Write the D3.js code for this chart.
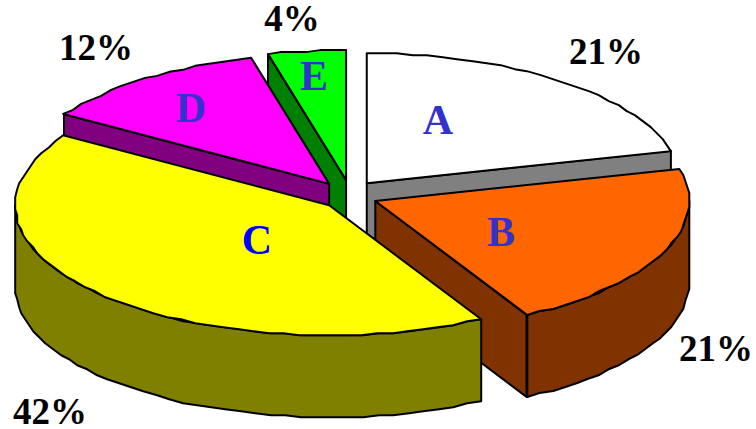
<!DOCTYPE html>
<html>
<head>
<meta charset="utf-8">
<script src="https://cdn.jsdelivr.net/npm/d3@7"></script>
<style>
  html, body { margin: 0; padding: 0; background: #fff; }
  svg { display: block; }
  text { font-family: "Liberation Serif", serif; font-weight: bold; text-anchor: middle; dominant-baseline: central; }
</style>
</head>
<body>
<div id="chart"></div>
<script>
const categories = ["A", "B", "C", "D", "E"];
const values = [21, 21, 42, 12, 4];
const topColors = ["#ffffff", "#ff6600", "#ffff00", "#ff00ff", "#00ff00"];
const wallColors = ["#808080", "#803300", "#808000", "#800080", "#008000"];
const letterColors = ["#3333cc", "#3333cc", "#0000ff", "#3333cc", "#3333cc"];

const width = 756, height = 429;
const cx = 349.6, cy = 195;
const rx = 314, ry = 130, depth = 82;
// how far each slice is pulled out of the pie, in screen px
const explodeX = 28, explodeY = 15;
// D sits a little further left than the plain explode gives
const nudge = { D: [-4, 1] };
const pctPos = { A: [606, 51], B: [716, 348], C: [50, 411], D: [96, 47], E: [292, 18] };
const letterPos = { A: [438, 120], B: [501, 232], C: [257, 240], D: [191, 108], E: [314, 76] };
// back to front
const drawOrder = ["A", "E", "D", "B", "C"];

const total = d3.sum(values);
const xScale = d3.scaleLinear().domain([-1, 1]).range([-rx, rx]);
const yScale = d3.scaleLinear().domain([-1, 1]).range([ry, -ry]);

const arcs = d3.pie().sort(null).startAngle(0).endAngle(2 * Math.PI)(values);

const svg = d3.select("#chart").append("svg")
  .attr("width", width)
  .attr("height", height);

const line = d3.line();

function point(a) {
  return [xScale(Math.sin(a)), yScale(Math.cos(a))];
}

// the original outline is coarse, so snap the rim to a 2px grid
function arcPoints(a0, a1) {
  let n = Math.max(2, Math.ceil((a1 - a0) / 0.05));
  return d3.range(n + 1).map((i) => {
    let p = point(a0 + (a1 - a0) * i / n);
    return [Math.round(p[0] / 2) * 2, Math.round(p[1] / 2) * 2];
  });
}

function shiftDown(pts) {
  return pts.map((p) => [p[0], p[1] + depth]);
}

function addShape(g, pts, fill) {
  g.append("path")
    .attr("d", line(pts) + "Z")
    .attr("fill", fill)
    .attr("stroke", "#000")
    .attr("stroke-width", 2)
    .attr("stroke-linejoin", "round");
}

drawOrder.forEach((name) => {
  let i = categories.indexOf(name);
  let d = arcs[i];
  let mid = (d.startAngle + d.endAngle) / 2;
  let off = nudge[name] || [0, 0];
  let g = svg.append("g")
    .attr("transform", "translate(" + (cx + explodeX * Math.sin(mid) + off[0]) + "," + (cy - explodeY * Math.cos(mid) + off[1]) + ")");

  // cut faces, only the ones turned towards the viewer
  [[d.startAngle, d.startAngle - Math.PI / 2], [d.endAngle, d.endAngle + Math.PI / 2]].forEach((w) => {
    if (Math.cos(w[1]) < -1e-6) {
      let edge = [[0, 0], point(w[0])];
      addShape(g, edge.concat(shiftDown(edge).reverse()), wallColors[i]);
    }
  });

  // outer rim, front half of the ellipse only
  let a0 = Math.max(d.startAngle, Math.PI / 2);
  let a1 = Math.min(d.endAngle, 3 * Math.PI / 2);
  if (a1 > a0) {
    let rim = arcPoints(a0, a1);
    addShape(g, rim.concat(shiftDown(rim).reverse()), wallColors[i]);
  }

  // top
  addShape(g, [[0, 0]].concat(arcPoints(d.startAngle, d.endAngle)), topColors[i]);
});

categories.forEach((name, i) => {
  svg.append("text")
    .attr("x", letterPos[name][0])
    .attr("y", letterPos[name][1])
    .attr("fill", letterColors[i])
    .attr("font-size", 42)
    .text(name);
  svg.append("text")
    .attr("x", pctPos[name][0])
    .attr("y", pctPos[name][1])
    .attr("fill", "#000")
    .attr("font-size", 37)
    .text(Math.round(values[i] / total * 100) + "%");
});
</script>
</body>
</html>
